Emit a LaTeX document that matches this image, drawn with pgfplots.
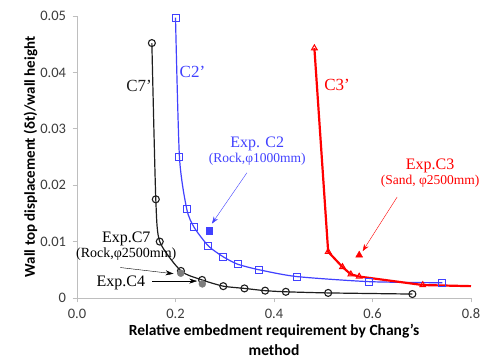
\documentclass[border=0pt]{standalone}
\usepackage{pgfplots}
\pgfplotsset{compat=1.18}
\usetikzlibrary{arrows.meta}
\usepackage{fontspec}
\setmainfont{Liberation Serif}
\newfontfamily\calibri{Carlito}
\definecolor{cblue}{RGB}{65,65,255}
\definecolor{cred}{RGB}{255,0,0}
\definecolor{cblack}{RGB}{30,30,30}
\definecolor{cgray}{RGB}{125,125,125}
\definecolor{axgray}{RGB}{190,190,190}
\definecolor{ticktext}{RGB}{60,60,60}
\begin{document}
\begin{tikzpicture}
\useasboundingbox (-77pt,-60pt) rectangle (407pt,298pt);
\begin{axis}[
  scale only axis, width=394pt, height=282pt,
  xmin=0, xmax=0.8, ymin=0, ymax=0.05,
  axis lines*=left,
  axis line style={axgray, line width=0.8pt, -},
  xtick={0,0.2,0.4,0.6,0.8}, ytick={0,0.01,0.02,0.03,0.04,0.05},
  xticklabels={0.0,0.2,0.4,0.6,0.8},
  yticklabels={0,0.01,0.02,0.03,0.04,0.05},
  scaled x ticks=false, scaled y ticks=false,
  tick align=outside, major tick length=4.5pt,
  tick style={axgray, line width=0.8pt},
  ticklabel style={font=\calibri\fontsize{14.5}{14.5}\selectfont, text=ticktext},
  xticklabel style={yshift=-3pt},
  yticklabel style={xshift=-3pt},
  xlabel={Relative embedment requirement by Chang’s\\method},
  xlabel style={font=\calibri\bfseries\fontsize{15.5}{20}\selectfont, align=center, yshift=2pt},
  ylabel={Wall top displacement (δt)/wall height},
  ylabel style={font=\calibri\bfseries\fontsize{15}{16}\selectfont, yshift=-4pt},
  clip=false,
]
% C7'
\addplot[cblack, line width=1.2pt, smooth, tension=0.4, mark=o, mark size=3.5pt, mark options={line width=1.1pt}] coordinates {
(0.152,0.0452) (0.160,0.0175) (0.168,0.0100) (0.211,0.0048) (0.254,0.0032) (0.297,0.0021) (0.340,0.0017) (0.382,0.0013) (0.424,0.0011) (0.510,0.0009) (0.681,0.0007)};
% C2'
\addplot[cblue, line width=1.2pt, smooth, tension=0.4, mark=square, mark size=3.5pt, mark options={line width=1.0pt}] coordinates {
(0.200,0.0497) (0.208,0.0250) (0.223,0.0157) (0.238,0.0125) (0.267,0.0092) (0.297,0.0073) (0.326,0.0060) (0.370,0.0050) (0.446,0.0038) (0.593,0.0029) (0.742,0.0027)};
% C3'
\addplot[cred, line width=2.2pt, mark=triangle, mark size=3.3pt, mark options={line width=1.0pt}] coordinates {
(0.482,0.0443) (0.510,0.0082) (0.539,0.0055) (0.556,0.0042) (0.573,0.0038) (0.702,0.0023)};
\addplot[cred, line width=2.2pt] coordinates {(0.702,0.0023) (0.800,0.0021)};
% experiments
\addplot[only marks, mark=square*, mark size=3.2pt, cblue] coordinates {(0.268,0.0119)};
\addplot[only marks, mark=triangle*, mark size=4pt, cred] coordinates {(0.573,0.0076)};
\addplot[only marks, mark=*, mark size=3.5pt, cgray] coordinates {(0.2106,0.0044) (0.2545,0.0025)};
% labels
\node[text=cblack, font=\fontsize{17}{17}\selectfont] at (axis cs:0.126,0.0376) {C7’};
\node[text=cblue, font=\fontsize{17}{17}\selectfont] at (axis cs:0.2345,0.0401) {C2’};
\node[text=cred, font=\fontsize{17}{17}\selectfont] at (axis cs:0.528,0.0378) {C3’};
\node[text=cblue, align=center, font=\fontsize{16}{16}\selectfont] at (axis cs:0.366,0.0261) {Exp. C2\\[-1pt]{\fontsize{13.5}{13.5}\selectfont (Rock,φ1000mm)}};
\node[text=cred, align=center, font=\fontsize{16}{16}\selectfont] at (axis cs:0.717,0.0222) {Exp.C3\\[-1pt]{\fontsize{13.5}{13.5}\selectfont (Sand, φ2500mm)}};
\node[text=black, align=center, font=\fontsize{16}{16}\selectfont] at (axis cs:0.1,0.0092) {Exp.C7\\[-1pt]{\fontsize{14}{14}\selectfont (Rock,φ2500mm)}};
\node[text=black, font=\fontsize{16}{16}\selectfont] at (axis cs:0.089,0.0026) {Exp.C4};
\draw[cblue, -{Stealth[length=7pt,width=5pt]}] (axis cs:0.345,0.0222) -- (axis cs:0.274,0.0132);
\draw[cred, -{Stealth[length=7pt,width=5pt]}] (axis cs:0.650,0.0179) -- (axis cs:0.580,0.0083);
\draw[black, -{Stealth[length=8pt,width=5pt]}] (axis cs:0.088,0.0054) -- (axis cs:0.196,0.0043);
\draw[black, -{Stealth[length=8pt,width=5pt]}] (axis cs:0.153,0.0030) -- (axis cs:0.244,0.0030);
\end{axis}
\end{tikzpicture}
\end{document}
